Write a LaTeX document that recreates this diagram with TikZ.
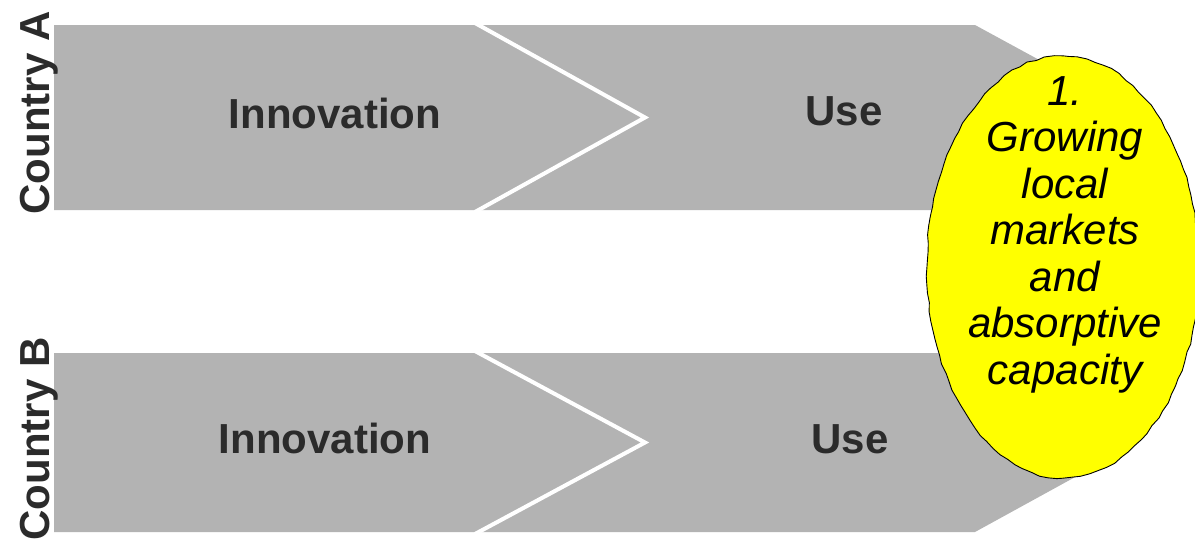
\documentclass[tikz,border=0pt]{standalone}
\usepackage{fontspec}
\setmainfont{Liberation Sans}
\usetikzlibrary{shapes.geometric,decorations.pathmorphing}
\definecolor{chevgray}{RGB}{179,179,179}
\definecolor{labelgray}{RGB}{43,43,43}
\definecolor{ovalyellow}{RGB}{255,255,0}
\tikzset{
  chev/.style={fill=chevgray,draw=none},
  sep/.style={draw=white,line width=4pt,line join=miter},
  stagelabel/.style={font=\fontsize{42}{46.5}\selectfont\bfseries,text=labelgray,inner sep=0pt,anchor=base},
  countrylabel/.style={font=\fontsize{42}{46.5}\selectfont\bfseries,text=labelgray,inner sep=0pt,anchor=base,rotate=90},
  oval/.style={ellipse,draw=black,line width=0.9pt,fill=ovalyellow,inner sep=0pt,
    decorate,decoration={random steps,segment length=9pt,amplitude=0.9pt}},
  ovaltext/.style={font=\fontsize{42}{46.5}\selectfont\itshape,align=center,inner sep=0pt,text=black}
}
\begin{document}
\pgfmathsetseed{7}
\begin{tikzpicture}[x=1pt,y=-1pt]
\useasboundingbox (0,0) rectangle (1195,542);
\clip (0,0) rectangle (1195,542);
% Row A
\fill[chev] (54,25) -- (475,25) -- (645,117.5) -- (475,210) -- (54,210) -- cycle;
\fill[chev] (475,25) -- (975,25) -- (1145,117.5) -- (975,210) -- (475,210) -- (645,117.5) -- cycle;
\draw[sep] (475,23) -- (645,117.5) -- (475,212);
% Row B
\fill[chev] (54,353) -- (475,353) -- (645,442.5) -- (475,532) -- (54,532) -- cycle;
\fill[chev] (475,353) -- (975,353) -- (1138,442.5) -- (975,532) -- (475,532) -- (645,442.5) -- cycle;
\draw[sep] (475,351) -- (645,442.5) -- (475,534);
% labels
\node[countrylabel] (ca) at (49,113) {Country A};
\node[countrylabel] (cb) at (49,439) {Country B};
\node[stagelabel] (innA) at (335,128) {Innovation};
\node[stagelabel] (useA) at (844,125) {Use};
\node[stagelabel] (innB) at (325,453) {Innovation};
\node[stagelabel] (useB) at (850,453) {Use};
% oval
\node[oval,minimum width=272pt,minimum height=422pt] (ov) at (1063,267) {};
\node[ovaltext,anchor=north] (ovt) at (1065,76) {1.\\Growing\\local\\markets\\and\\absorptive\\capacity};
\end{tikzpicture}
\end{document}
